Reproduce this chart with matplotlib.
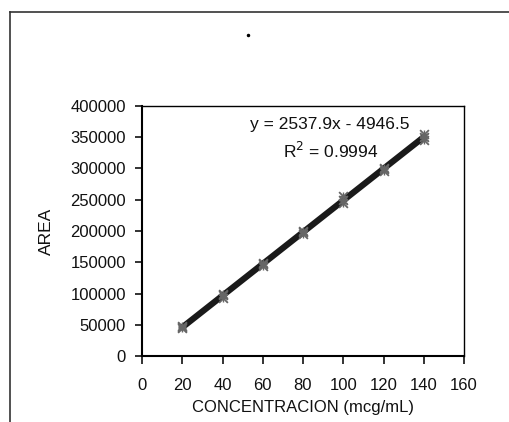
import matplotlib
matplotlib.use("Agg")
import matplotlib.pyplot as plt
from matplotlib.lines import Line2D
import numpy as np

plt.rcParams['font.family'] = ['Liberation Sans', 'DejaVu Sans']

conc = [20, 20, 20, 40, 40, 40, 60, 60, 60, 80, 80, 80, 100, 100, 100, 120, 120, 120, 140, 140, 140]
area = [44500, 47000, 48500, 93000, 97000, 100000, 144000, 147500, 149500, 195000, 198000, 200000,
        245000, 250000, 256000, 296000, 299000, 301000, 345000, 350000, 355000]
slope = 2537.9
intercept = -4946.5
x_ticks = [0, 20, 40, 60, 80, 100, 120, 140, 160]
y_ticks = [0, 50000, 100000, 150000, 200000, 250000, 300000, 350000, 400000]

W, H = 509, 422
fig = plt.figure(figsize=(W/100, H/100), dpi=100)
ax = fig.add_axes([142/W, 1-356/H, (464-142)/W, (356-106)/H])

xf = np.array([20, 140])
ax.plot(xf, slope*xf + intercept, color='#1a1a1a', lw=4.5, solid_capstyle='round', zorder=2)
ax.scatter(conc, area, marker='x', s=40, color='#666666', linewidths=1.3, zorder=3)
ax.scatter(conc, area, marker='+', s=40, color='#666666', linewidths=1.0, zorder=3)

ax.set_xlim(0, 160)
ax.set_ylim(0, 400000)
ax.set_xticks(x_ticks)
ax.set_yticks(y_ticks)
ax.tick_params(axis='x', direction='out', length=6, width=1.2, labelsize=12, colors='#111111', pad=10)
ax.tick_params(axis='y', direction='out', length=5, width=1.2, labelsize=12, colors='#111111', pad=6.5)
for s in ['left', 'bottom']:
    ax.spines[s].set_linewidth(1.5)
for s in ['top', 'right']:
    ax.spines[s].set_linewidth(1.0)
ax.set_xlabel('CONCENTRACION (mcg/mL)', fontsize=12, labelpad=5, color='#111111')
ax.set_ylabel('AREA', fontsize=12.5, color='#111111')
ax.yaxis.set_label_coords((54-142)/322, 0.5)

ax.text((330-142)/322, 1-(124-106)/250, 'y = 2537.9x - 4946.5', transform=ax.transAxes,
        ha='center', va='center', fontsize=12.5, color='#111111')
ax.text((331-142)/322, 1-(151-106)/250, 'R$^2$ = 0.9994', transform=ax.transAxes,
        ha='center', va='center', fontsize=12.5, color='#111111')

fig.add_artist(Line2D([10/W, 10/W], [0, 1-12/H], color='#333333', lw=1.2))
fig.add_artist(Line2D([10/W, 1], [1-12/H, 1-12/H], color='#333333', lw=1.2))
fig.add_artist(Line2D([248/W], [1-35/H], marker='.', markersize=3, color='black'))

fig.savefig('out.png', dpi=100)
